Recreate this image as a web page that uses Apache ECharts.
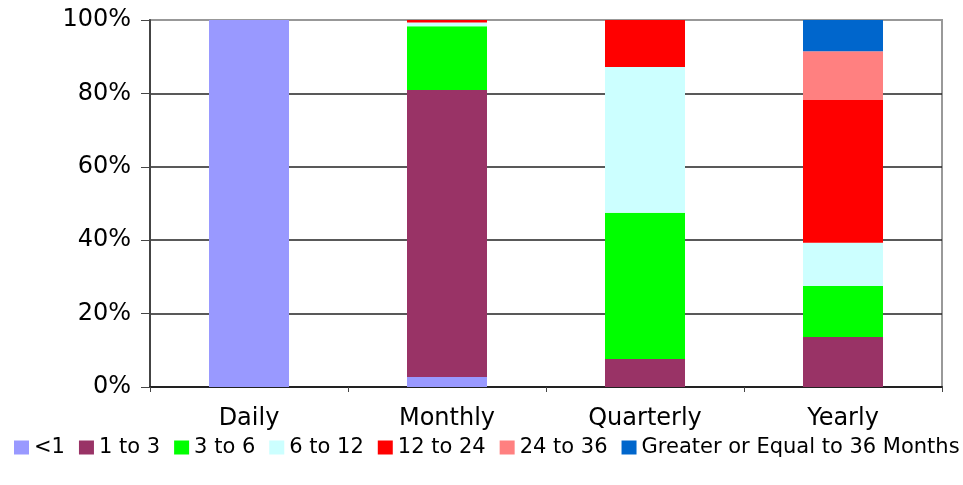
<!DOCTYPE html>
<html>
<head>
<meta charset="utf-8">
<script src="https://cdn.jsdelivr.net/npm/echarts@6/dist/echarts.min.js"></script>
<style>
  html, body { margin: 0; padding: 0; background: #fff; }
  #chart { width: 963px; height: 485px; }
</style>
</head>
<body>
<div id="chart"></div>
<script>
// Share of each holding-period bucket per rebalancing frequency (percent)
const categories = ['Daily', 'Monthly', 'Quarterly', 'Yearly'];
const seriesNames = ['<1', '1 to 3', '3 to 6', '6 to 12', '12 to 24', '24 to 36', 'Greater or Equal to 36 Months'];
const lessThan1      = [100, 2.7, 0, 0];
const oneTo3         = [0, 78.2, 7.6, 13.6];
const threeTo6       = [0, 17.4, 39.9, 13.9];
const sixTo12        = [0, 1.0, 39.7, 11.8];
const twelveTo24     = [0, 0.7, 12.8, 38.9];
const twentyFourTo36 = [0, 0, 0, 13.3];
const atLeast36      = [0, 0, 0, 8.5];
const yTicks = [0, 20, 40, 60, 80, 100];

const seriesValues = [lessThan1, oneTo3, threeTo6, sixTo12, twelveTo24, twentyFourTo36, atLeast36];
const seriesColors = ['#9999FF', '#993366', '#00FF00', '#CCFFFF', '#FF0000', '#FF8080', '#0066CC'];

const font = '"DejaVu Sans", "Liberation Sans", Arial, sans-serif';
const chart = echarts.init(document.getElementById('chart'), null, { renderer: 'canvas' });

chart.setOption({
  animation: false,
  backgroundColor: '#fff',
  color: seriesColors,
  grid: {
    left: 150, right: 21, top: 20, bottom: 98,
    show: true, borderColor: '#999', borderWidth: 2, backgroundColor: 'transparent'
  },
  legend: {
    top: 437,
    left: 14,
    right: 0,
    padding: 0,
    itemWidth: 15,
    itemHeight: 14,
    itemGap: 14,
    icon: 'rect',
    textStyle: { fontFamily: font, fontSize: 21, color: '#000', padding: [0, 0, 0, 0] },
    data: seriesNames
  },
  xAxis: {
    type: 'category',
    data: categories,
    axisLine: { lineStyle: { color: '#222', width: 2 } },
    axisTick: { show: true, length: 5, lineStyle: { color: '#444' } },
    axisLabel: { fontFamily: font, fontSize: 24, color: '#000', margin: 20 }
  },
  yAxis: {
    type: 'value',
    min: yTicks[0],
    max: yTicks[yTicks.length - 1],
    interval: yTicks[1] - yTicks[0],
    axisLine: { show: true, lineStyle: { color: '#444', width: 2 } },
    axisTick: { show: true, length: 9, lineStyle: { color: '#444' } },
    axisLabel: { fontFamily: font, fontSize: 24, color: '#000', margin: 19, formatter: '{value}%' },
    splitLine: { show: true, lineStyle: { color: ['#222', '#222', '#222', '#222', '#222', '#999'], width: 1.5 } }
  },
  series: seriesNames.map((name, i) => ({
    name: name,
    type: 'bar',
    stack: 'total',
    barWidth: 80,
    data: seriesValues[i],
    itemStyle: { color: seriesColors[i] }
  }))
});
</script>
</body>
</html>
